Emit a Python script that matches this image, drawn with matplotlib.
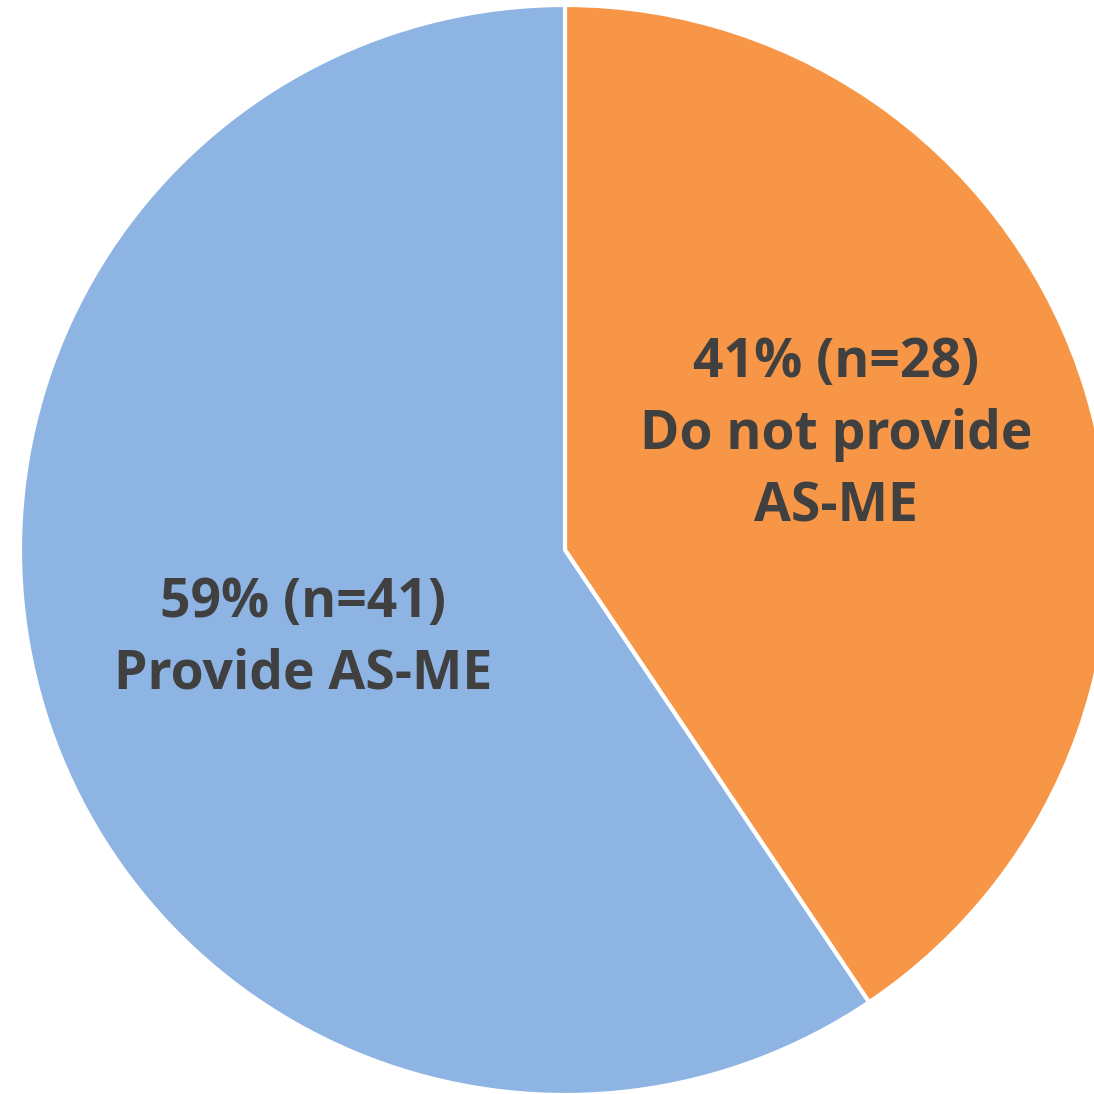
import matplotlib
matplotlib.use("Agg")
import matplotlib.pyplot as plt

labels = ["41% (n=28)\nDo not provide\nAS-ME", "59% (n=41)\nProvide AS-ME"]
counts = [28, 41]
colors = ["#F79646", "#8EB4E3"]
label_pos = [(0.497, 0.211), (-0.481, -0.163)]

fig = plt.figure(figsize=(10.94, 10.94), dpi=100)
ax = fig.add_axes([0, 0, 1, 1])
ax.pie(counts, colors=colors, startangle=90, counterclock=False, radius=1.0,
       wedgeprops=dict(edgecolor="white", linewidth=3))
for (x, y), lab in zip(label_pos, labels):
    ax.text(x, y, lab, ha="center", va="center", fontsize=38.5, fontweight="bold",
            color="#404040", family="Open Sans", linespacing=1.44)

r = 545.0
ax.set_xlim(-565 / r, (1094 - 565) / r)
ax.set_ylim(-(1094 - 550) / r, 550 / r)
ax.set_aspect("equal")
ax.axis("off")
fig.savefig("out.png", dpi=100)
